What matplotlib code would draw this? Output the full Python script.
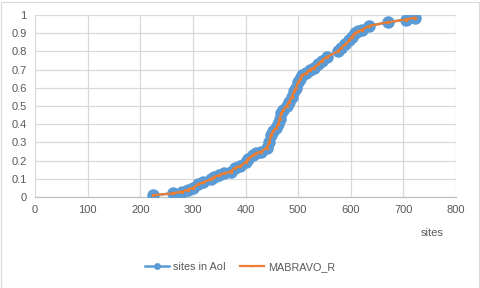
import matplotlib
matplotlib.use("Agg")
import matplotlib.pyplot as plt
from matplotlib.patches import Rectangle

sites = [224, 262, 280, 290, 300, 310, 320, 335, 340, 350, 360, 372, 380, 390,
         400, 405, 415, 420, 430, 440, 445, 448, 452, 458, 462, 465, 468, 472,
         478, 482, 488, 492, 496, 500, 504, 508, 515, 522, 530, 538, 545, 555,
         575, 582, 590, 597, 602, 608, 614, 622, 635, 670, 705, 722]
aoi = [0.01, 0.02, 0.03, 0.04, 0.05, 0.07, 0.08, 0.10, 0.11, 0.12, 0.13, 0.14,
       0.16, 0.17, 0.19, 0.21, 0.23, 0.24, 0.25, 0.27, 0.30, 0.34, 0.36, 0.38,
       0.40, 0.43, 0.46, 0.48, 0.50, 0.52, 0.55, 0.58, 0.60, 0.63, 0.65, 0.67,
       0.68, 0.70, 0.71, 0.73, 0.75, 0.77, 0.80, 0.82, 0.84, 0.86, 0.88, 0.90,
       0.91, 0.92, 0.94, 0.96, 0.975, 0.985]
mabravo = aoi

xticks = [0, 100, 200, 300, 400, 500, 600, 700, 800]
yticks = [0, 0.1, 0.2, 0.3, 0.4, 0.5, 0.6, 0.7, 0.8, 0.9, 1]
ylabels = ["0", "0.1", "0.2", "0.3", "0.4", "0.5", "0.6", "0.7", "0.8", "0.9", "1"]

blue = "#5B9BD5"
orange = "#ED7D31"
tc = "#595959"
grid = "#D9D9D9"

plt.rcParams['font.family'] = ['Liberation Sans', 'DejaVu Sans']

fig = plt.figure(figsize=(4.8, 2.88), dpi=100)
ax = fig.add_axes([35/480, 91/288, 421/480, 182/288])

ax.plot(sites, aoi, color=blue, lw=1.8, marker='o', ms=9,
        markeredgewidth=0, label="sites in AoI", zorder=3)
ax.plot(sites, mabravo, color=orange, lw=1.6, marker='o', ms=2.5,
        markeredgewidth=0, label="MABRAVO_R", zorder=4)

ax.set_xlim(0, 800)
ax.set_ylim(0, 1)
ax.set_xticks(xticks)
ax.set_yticks(yticks)
ax.set_yticklabels(ylabels)
ax.grid(True, color=grid, lw=0.9)
ax.set_axisbelow(True)
for s in ["top", "right", "left"]:
    ax.spines[s].set_visible(False)
ax.spines["bottom"].set_color("#BFBFBF")
ax.spines["bottom"].set_linewidth(0.9)
ax.tick_params(length=0, colors=tc, labelsize=8, pad=6)

fig.text(432/480, 1 - 233/288, "sites", color=tc, fontsize=8, ha='center', va='center')

leg = fig.legend(loc='center', bbox_to_anchor=(240/480, 1 - 267/288), ncol=2,
                 frameon=False, fontsize=7.8, labelcolor=tc, handlelength=2.2,
                 handletextpad=0.4, columnspacing=1.3, markerscale=0.55)

fig.add_artist(Rectangle((0.5/480, 0.5/288), 1 - 2/480, 1 - 2/288,
                         transform=fig.transFigure, fill=False,
                         edgecolor="#D9D9D9", lw=0.8))

fig.savefig("out.png", dpi=100)
